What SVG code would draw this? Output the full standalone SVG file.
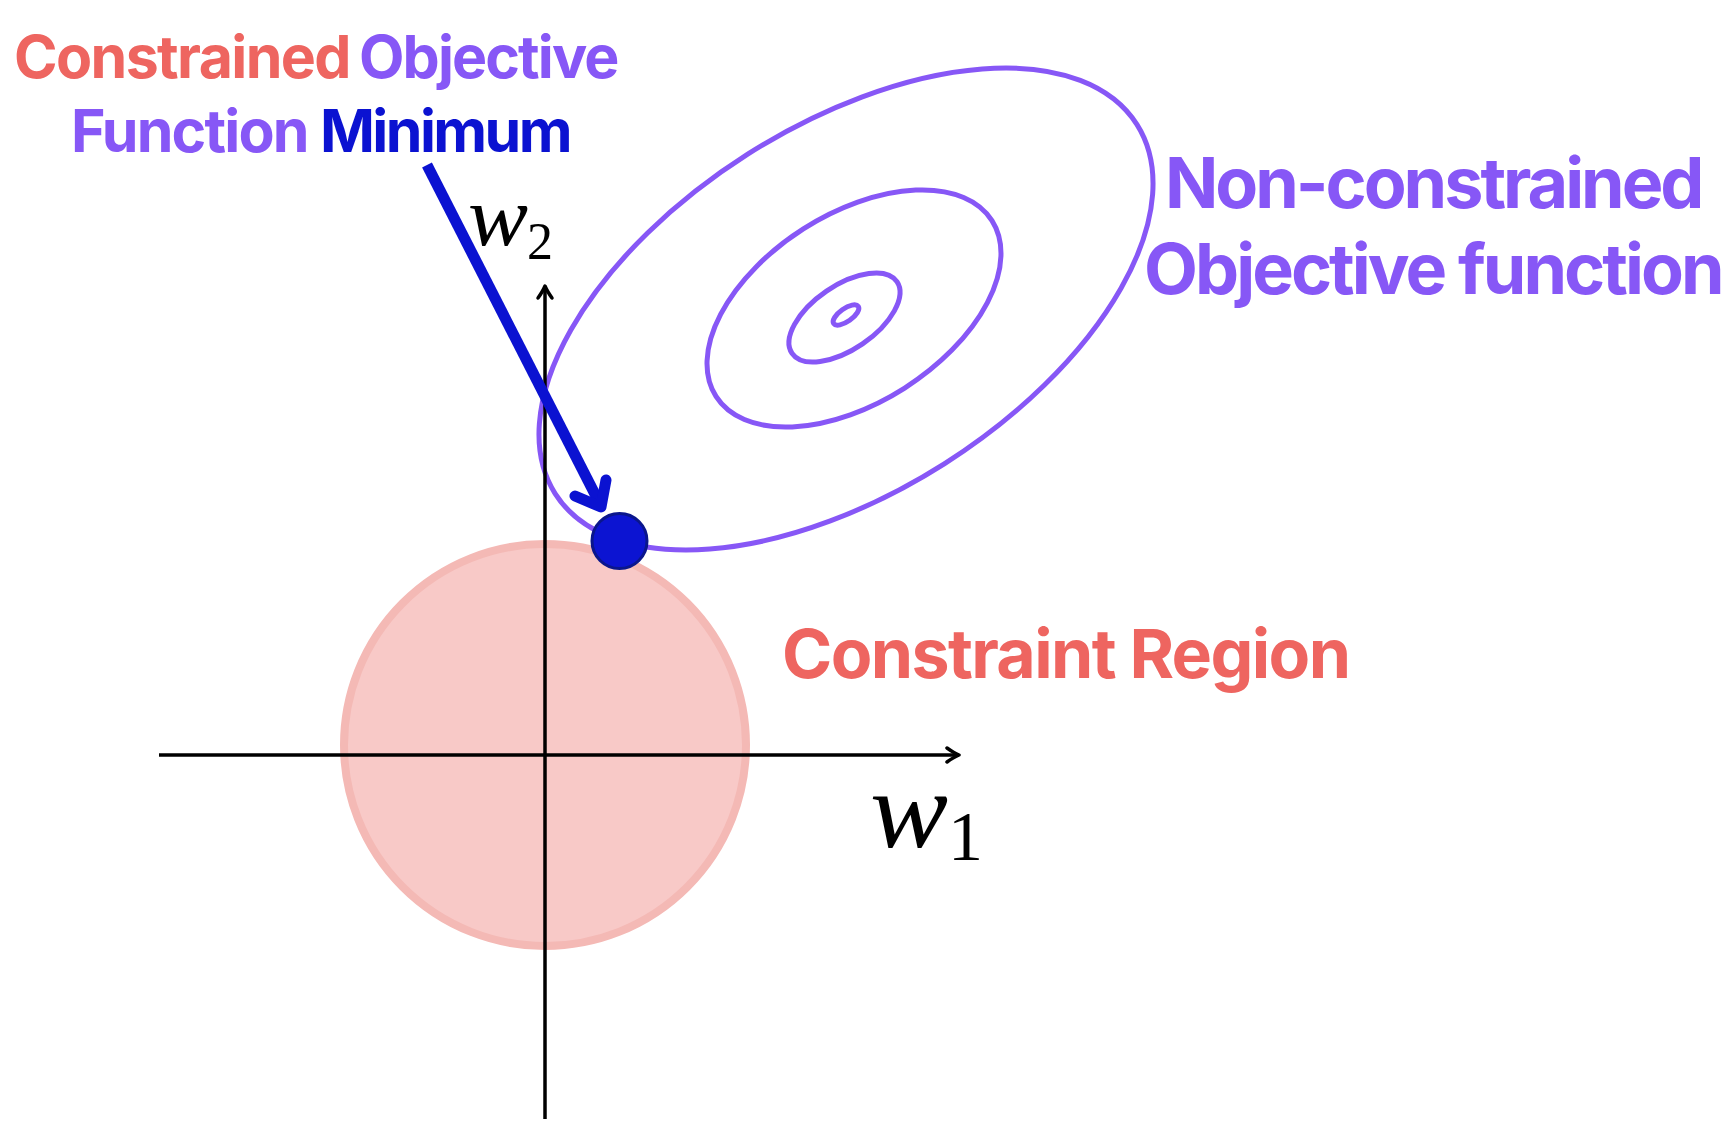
<svg xmlns="http://www.w3.org/2000/svg" width="1734" height="1138" viewBox="0 0 1734 1138">
<style>
.lbl{font-family:Inter,"Liberation Sans",sans-serif;font-weight:700}
.red{fill:#ee6560}
.pur{fill:#8757f6}
.blu{fill:#0b12d1}
.contour{fill:none;stroke:#8757f6;stroke-width:5}
.axis{fill:none;stroke:#000;stroke-width:3.5}
.math{font-family:"Liberation Serif","DejaVu Serif",serif;fill:#000}
</style>
<defs>
<marker id="axhead" viewBox="-15 -10 18 20" markerWidth="18" markerHeight="20" refX="0" refY="0" orient="auto" markerUnits="userSpaceOnUse">
<path d="M-12,-7 Q-5,-2 0,0 Q-5,2 -12,7" fill="none" stroke="#000" stroke-width="3.5" stroke-linecap="round" stroke-linejoin="round"/>
</marker>
</defs>
<rect width="1734" height="1138" fill="#fff"/>
<g id="constraint-region">
<circle cx="545" cy="745" r="201" fill="#f8c9c7" stroke="#f4b9b5" stroke-width="8"/>
</g>
<g id="objective-contours">
<ellipse class="contour" cx="846" cy="309" rx="344.5" ry="183.4" transform="rotate(-32.4 846 309)"/>
<ellipse class="contour" cx="854" cy="308.5" rx="163.6" ry="94.3" transform="rotate(-32.5 854 308.5)"/>
<ellipse class="contour" cx="844.5" cy="317.5" rx="63.5" ry="32" transform="rotate(-34.3 844.5 317.5)"/>
<ellipse class="contour" cx="846" cy="315" rx="15" ry="6.5" transform="rotate(-35 846 315)"/>
</g>
<g id="axes">
<line class="axis" x1="159" y1="755" x2="959" y2="755" marker-end="url(#axhead)"/>
<line class="axis" x1="545" y1="1119" x2="545" y2="286" marker-end="url(#axhead)"/>
<text class="math" x="468" y="245" font-size="84" font-style="italic" textLength="60" lengthAdjust="spacingAndGlyphs">w</text>
<text class="math" x="527" y="259" font-size="52">2</text>
<text class="math" x="870" y="847" font-size="110" font-style="italic" textLength="78" lengthAdjust="spacingAndGlyphs">w</text>
<text class="math" x="948" y="860" font-size="70">1</text>
</g>
<g id="connectors">
<path d="M427,165 L601,506" fill="none" stroke="#0b12d1" stroke-width="11" stroke-linecap="butt"/>
<path d="M575,496 L601,507 L606,480" fill="none" stroke="#0b12d1" stroke-width="11" stroke-linecap="round" stroke-linejoin="round"/>
</g>
<g id="minimum-point">
<circle cx="619.5" cy="541" r="27.5" fill="#0c14d2" stroke="#0a168c" stroke-width="3"/>
</g>
<g id="label-constrained-minimum">
<text class="lbl red" x="14" y="78" font-size="59" letter-spacing="-1.5" textLength="336" lengthAdjust="spacing">Constrained</text>
<text class="lbl pur" x="359" y="78" font-size="59" letter-spacing="-1.5" textLength="259" lengthAdjust="spacing">Objective</text>
<text class="lbl pur" x="71" y="152" font-size="59" letter-spacing="-1.5" textLength="237" lengthAdjust="spacing">Function</text>
<text class="lbl blu" x="320" y="152" font-size="59" letter-spacing="-1.5" textLength="251" lengthAdjust="spacing">Minimum</text>
</g>
<g id="label-nonconstrained">
<text class="lbl pur" x="1165" y="208" font-size="70" letter-spacing="-2.5" textLength="537" lengthAdjust="spacing">Non-constrained</text>
<text class="lbl pur" x="1144" y="294" font-size="70" letter-spacing="-2.5" textLength="578" lengthAdjust="spacing">Objective function</text>
</g>
<g id="label-constraint-region">
<text class="lbl red" x="782" y="678" font-size="68" letter-spacing="-2" textLength="567" lengthAdjust="spacing">Constraint Region</text>
</g>
</svg>
